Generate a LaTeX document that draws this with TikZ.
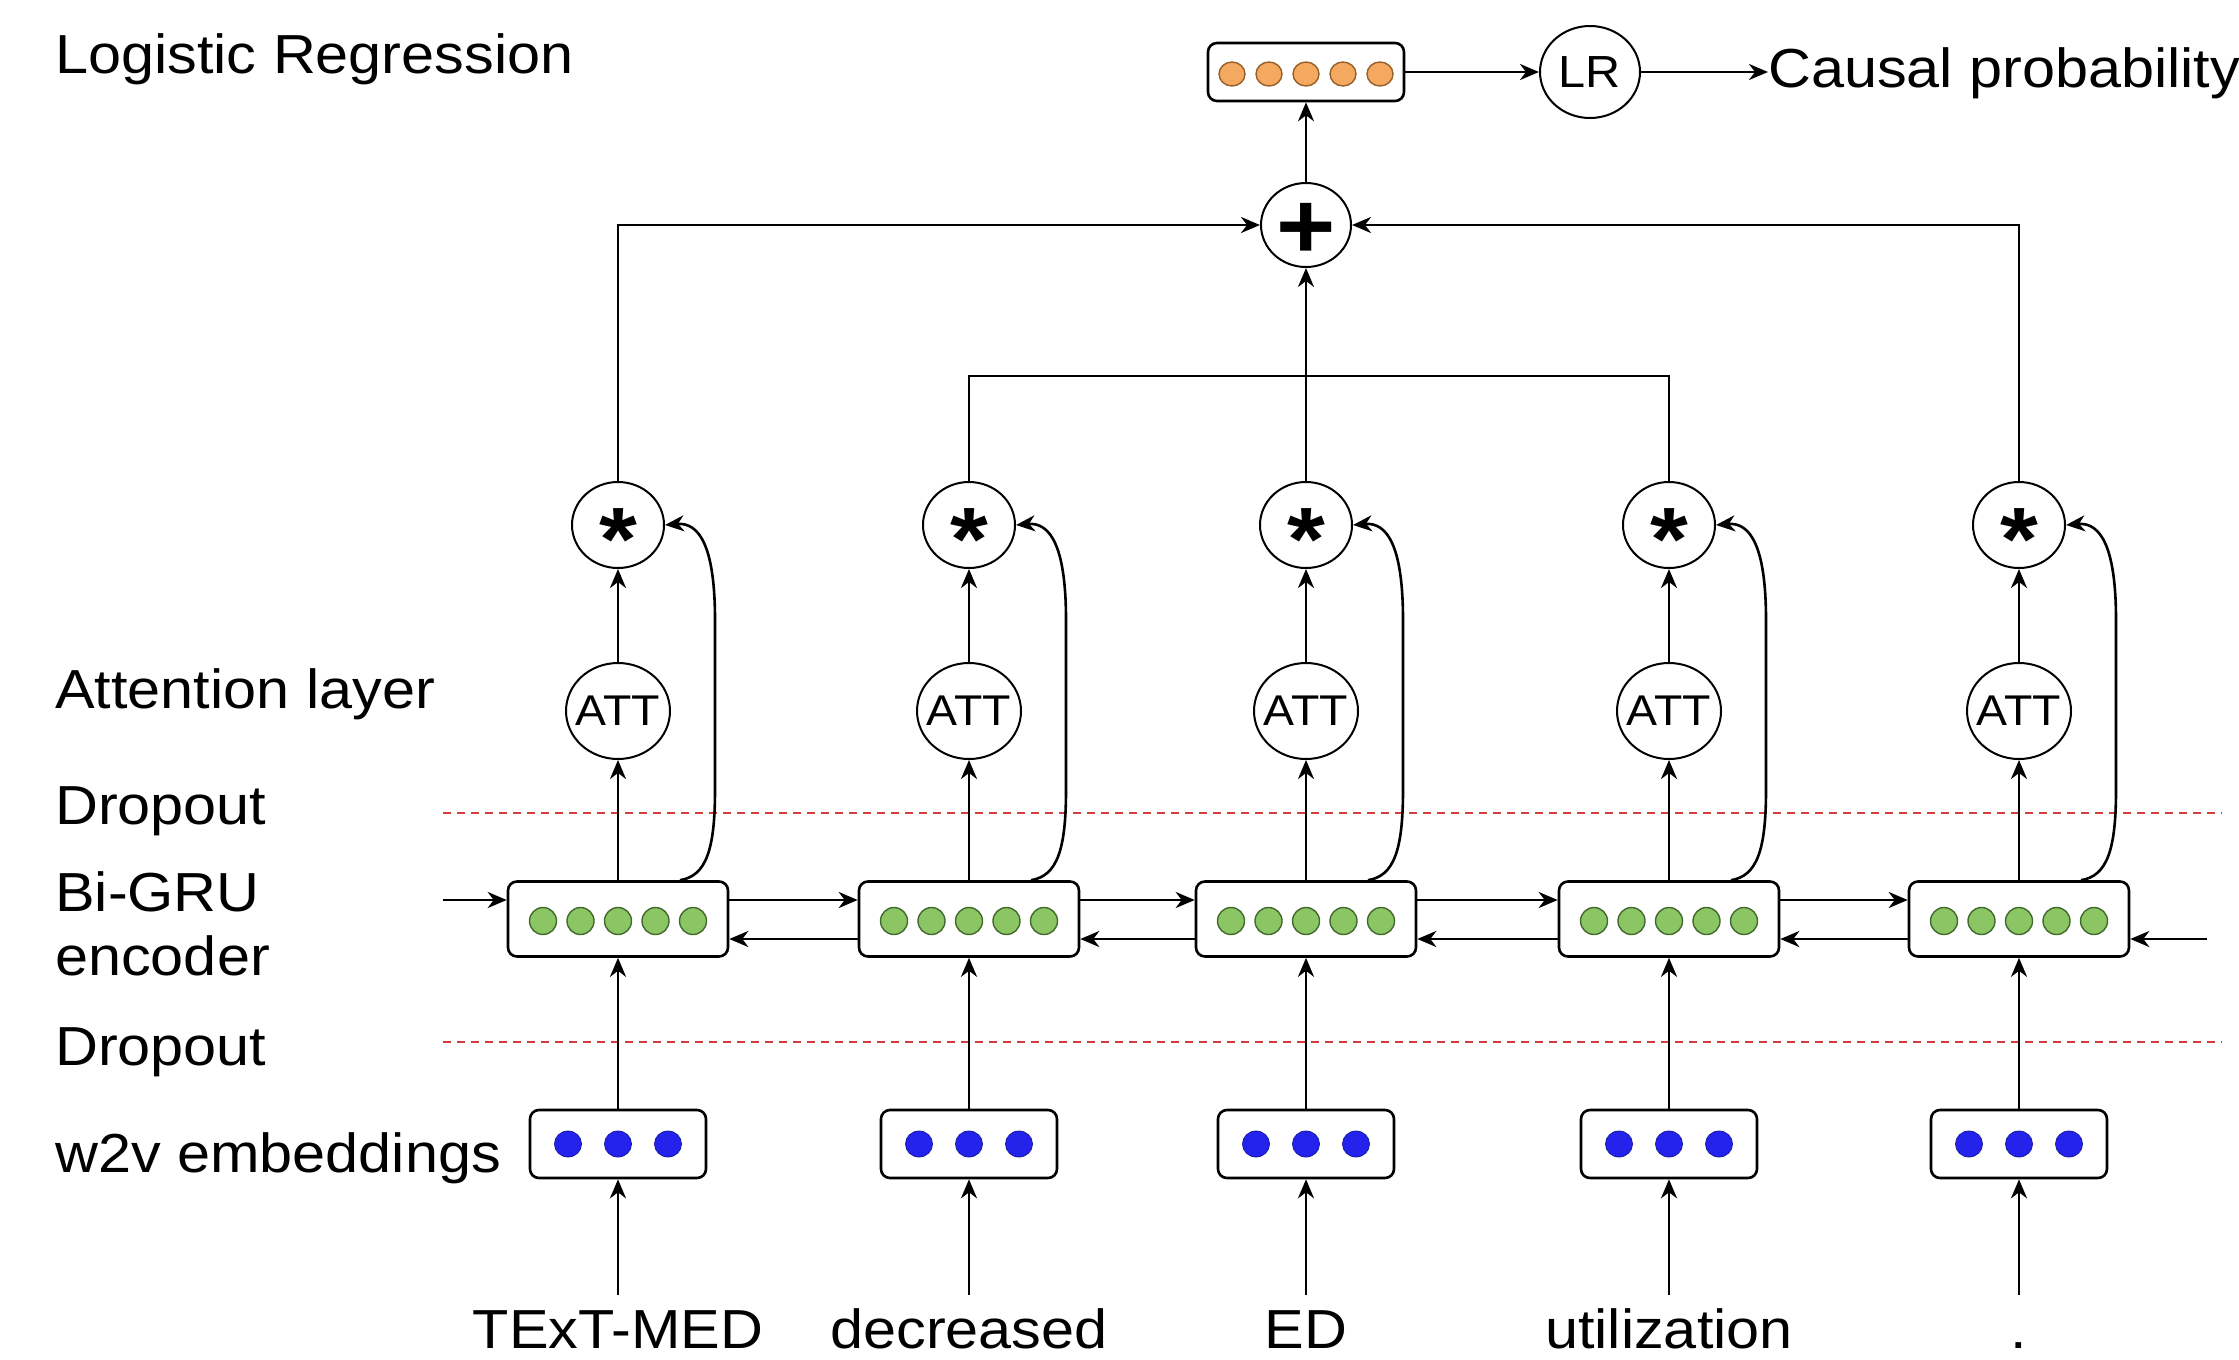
\documentclass[tikz,border=0pt]{standalone}
\usepackage{fontspec}
\setmainfont[FakeStretch=1.08]{Liberation Sans}
\usetikzlibrary{arrows.meta,shapes.geometric}
\definecolor{grn}{RGB}{140,198,100}
\definecolor{grnd}{RGB}{65,105,45}
\definecolor{org}{RGB}{245,168,95}
\definecolor{orgd}{RGB}{150,95,40}
\definecolor{blu}{RGB}{35,35,235}
\definecolor{dred}{RGB}{215,60,60}
\begin{document}
\begin{tikzpicture}[x=1pt,y=-1pt,
  arr/.style={-{Stealth[length=19pt,width=16pt,inset=6pt]}, line width=2.6pt},
  ln/.style={line width=2.6pt},
  lbl/.style={anchor=base west, inner sep=0pt, font=\fontsize{55}{60}\selectfont},
  word/.style={anchor=base, inner sep=0pt, text height=53pt, font=\fontsize{55}{60}\selectfont},
  vbox/.style={draw, line width=2.6pt, rounded corners=9pt, fill=white, inner sep=0pt},
  grubox/.style={vbox, minimum width=220pt, minimum height=75pt},
  embbox/.style={vbox, minimum width=176pt, minimum height=68pt},
  ring/.style={ellipse, draw, line width=2pt, fill=white, inner sep=0pt},
  starc/.style={ring, minimum width=92pt, minimum height=86pt,
    label={center:{\fontsize{90}{90}\bfseries\selectfont\raisebox{-0.5em}[0pt][0pt]{*}}}},
  attc/.style={ring, minimum width=104pt, minimum height=96pt,
    label={center:{\fontsize{43}{45}\selectfont ATT}}},
  dropl/.style={draw=dred, line width=1.6pt, dash pattern=on 8pt off 6pt},
  gdot/.style={fill=grn, draw=grnd, line width=1.4pt},
  odot/.style={fill=org, draw=orgd, line width=1.4pt},
  bdot/.style={fill=blu, draw=blu!70!black, line width=0.8pt}
]
\fill[white] (0,0) rectangle (2239,1360);
\useasboundingbox (0,0) rectangle (2239,1360);

% dropout lines
\coordinate (d1a) at (443,813); \coordinate (d1b) at (2222,813);
\coordinate (d2a) at (443,1042); \coordinate (d2b) at (2222,1042);
\draw[dropl] (d1a) -- (d1b);
\draw[dropl] (d2a) -- (d2b);

% left labels
\node[lbl] (lLR) at (55,73) {Logistic Regression};
\node[lbl] (lAtt) at (55,708) {Attention layer};
\node[lbl] (lDr1) at (55,824) {Dropout};
\node[lbl] (lBi) at (55,911) {Bi-GRU};
\node[lbl] (lEnc) at (55,975) {encoder};
\node[lbl] (lDr2) at (55,1065) {Dropout};
\node[lbl] (lW2v) at (55,1172) {w2v embeddings};

% columns
\foreach \i/\c/\w in {1/618/TExT-MED, 2/969/decreased, 3/1306/ED, 4/1669/utilization, 5/2019/.}{
  \node[starc] (s\i) at (\c,525) {};
  \node[attc] (a\i) at (\c,711) {};
  \node[grubox] (g\i) at (\c,919) {};
  \foreach \k in {-2,...,2}
    \draw[gdot] ([xshift=\k*37.5pt, yshift=-2pt]g\i.center) circle (13.5pt);
  \node[embbox] (w\i) at (\c,1144) {};
  \foreach \k in {-1,0,1}
    \draw[bdot] ([xshift=\k*50pt]w\i.center) ellipse (13.5pt and 13pt);
  \node[word] (t\i) at (\c,1348) {\w};
  \draw[arr] (t\i.north) -- (w\i.south);
  \draw[arr] (w\i.north) -- (g\i.south);
  \draw[arr] (g\i.north) -- (a\i.south);
  \draw[arr] (a\i.north) -- (s\i.south);
  \draw[arr] ([xshift=62pt]g\i.north) .. controls (\c+88,876) and (\c+97,850) .. (\c+97,790)
     -- (\c+97,620) .. controls (\c+97,548) and (\c+82,522) .. (s\i.east);
}

% recurrent connections
\foreach \i/\j in {1/2,2/3,3/4,4/5}{
  \draw[arr] ([yshift=19pt]g\i.east) -- ([yshift=19pt]g\j.west);
  \draw[arr] ([yshift=-20pt]g\j.west) -- ([yshift=-20pt]g\i.east);
}
\coordinate (inL) at (443,900);
\coordinate (inR) at (2207,939);
\draw[arr] (inL) -- (inL -| g1.west);
\draw[arr] (inR) -- (inR -| g5.east);

% top part
\node[ring, minimum width=90pt, minimum height=84pt,
  label={center:{\fontsize{94}{96}\bfseries\selectfont\raisebox{-0.352em}[0pt][0pt]{+}}}] (p) at (1306,225) {};
\node[vbox, minimum width=196pt, minimum height=58pt] (ob) at (1306,72) {};
\foreach \k in {-2,...,2}
  \draw[odot] ([xshift=\k*37pt, yshift=-2pt]ob.center) ellipse (13pt and 12pt);
\node[ring, minimum width=100pt, minimum height=92pt,
  label={center:{\fontsize{45}{48}\selectfont LR}}] (lr) at (1590,72) {};
\node[lbl] (cp) at (1768,87) {Causal probability};

\draw[arr] (s1.north) |- (p.west);
\draw[arr] (s5.north) |- (p.east);
\coordinate (j) at (1306,376);
\draw[ln] (s2.north) |- (j) -| (s4.north);
\draw[arr] (s3.north) -- (p.south);
\draw[arr] (p.north) -- (ob.south);
\draw[arr] (ob.east) -- (lr.west);
\draw[arr] (lr.east) -- (lr.east -| cp.west);
\end{tikzpicture}
\end{document}
